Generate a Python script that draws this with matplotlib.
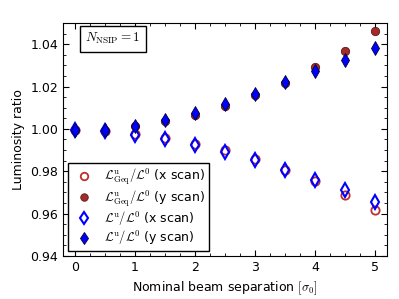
import numpy as np
import matplotlib
matplotlib.use("Agg")
import matplotlib.pyplot as plt
from matplotlib.ticker import MultipleLocator

plt.rcParams['mathtext.fontset'] = 'cm'
plt.rcParams['font.family'] = 'DejaVu Sans'

# separations in units of sigma_0
sep = np.array([0.0, 0.5, 1.0, 1.5, 2.0, 2.5, 3.0, 3.5, 4.0, 4.5, 5.0])

# luminosity ratios
geq_x = np.array([0.9995, 0.9988, 0.9976, 0.9957, 0.9929, 0.9898, 0.9859, 0.9807, 0.9752, 0.9686, 0.9619])
geq_y = np.array([0.9995, 0.9992, 1.0012, 1.0035, 1.0067, 1.0109, 1.0159, 1.0218, 1.0291, 1.0370, 1.0460])
lum_x = np.array([0.9995, 0.9990, 0.9971, 0.9952, 0.9926, 0.9892, 0.9854, 0.9808, 0.9760, 0.9710, 0.9654])
lum_y = np.array([0.9995, 0.9996, 1.0015, 1.0042, 1.0076, 1.0118, 1.0164, 1.0220, 1.0272, 1.0326, 1.0381])

fig = plt.figure(figsize=(3.99, 2.99), dpi=100)
ax = fig.add_axes([0.158, 0.144, 0.812, 0.779])

ax.plot(sep, geq_x, 'o', mfc='none', mec='#c0302a', mew=1.3, ms=6,
        label=r'$\mathcal{L}^{\rm u}_{\rm Geq}/\mathcal{L}^0$ (x scan)')
ax.plot(sep, geq_y, 'o', color='#a52a2a', mec='#5a1a1a', mew=0.6, ms=6,
        label=r'$\mathcal{L}^{\rm u}_{\rm Geq}/\mathcal{L}^0$ (y scan)')
ax.plot(sep, lum_x, 'd', mfc='none', mec='blue', mew=1.5, ms=7,
        label=r'$\mathcal{L}^{\rm u}/\mathcal{L}^0$ (x scan)')
ax.plot(sep, lum_y, 'd', color='blue', mec='#000033', mew=0.6, ms=7,
        label=r'$\mathcal{L}^{\rm u}/\mathcal{L}^0$ (y scan)')

ax.set_xlim(-0.2, 5.2)
ax.set_ylim(0.94, 1.05)
ax.set_yticks([0.94, 0.96, 0.98, 1.00, 1.02, 1.04])
ax.xaxis.set_minor_locator(MultipleLocator(0.25))
ax.yaxis.set_minor_locator(MultipleLocator(0.005))
ax.tick_params(which='both', direction='in', top=True, right=True, labelsize=9)
ax.tick_params(which='major', length=4)
ax.tick_params(which='minor', length=2)
ax.set_xlabel(r'Nominal beam separation $[\sigma_0]$', fontsize=9)
ax.set_ylabel('Luminosity ratio', fontsize=9)

leg = ax.legend(loc='lower left', numpoints=1, fontsize=9, fancybox=False,
                edgecolor='black', framealpha=1, borderaxespad=0.4,
                labelspacing=0.1, borderpad=0.3, handletextpad=0.6, markerscale=0.9)
leg.get_frame().set_linewidth(1.0)

ax.text(0.068, 0.933, r'$N_{\rm NSIP}=1$', transform=ax.transAxes, fontsize=9.5,
        va='center', ha='left',
        bbox=dict(boxstyle='square,pad=0.4', fc='white', ec='black', lw=1.0))

fig.savefig('out.png', dpi=100)
